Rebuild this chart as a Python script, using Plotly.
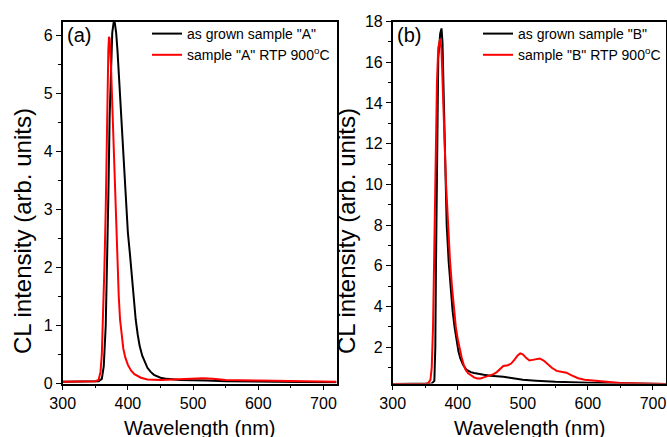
import plotly.graph_objects as go

# ---------------- data ----------------
wl_a_grown = [300, 320, 340, 355, 360, 363, 366, 368, 370, 372, 374, 376, 378, 379, 380, 382, 384, 386,
              388, 390, 393, 396, 398, 400, 403, 406, 409, 412, 415, 418, 422, 426, 430, 435, 440, 450,
              460, 480, 500, 520, 550, 600, 650, 700, 720]
cl_a_grown = [0.03, 0.03, 0.03, 0.04, 0.08, 0.3, 1.0, 2.0, 3.2, 4.6, 5.6, 6.05, 6.22, 6.24, 6.22, 6.05,
              5.75, 5.35, 4.9, 4.45, 3.85, 3.3, 2.9, 2.6, 2.25, 1.85, 1.45, 1.1, 0.85, 0.65, 0.48, 0.36,
              0.27, 0.2, 0.15, 0.1, 0.08, 0.06, 0.06, 0.05, 0.04, 0.03, 0.03, 0.02, 0.02]

wl_a_rtp = [300, 330, 350, 355, 358, 360, 362, 364, 366, 368, 370, 371, 372, 374, 376, 378, 380, 382,
            384, 386, 388, 390, 393, 396, 400, 405, 410, 420, 430, 450, 480, 500, 515, 530, 550, 600,
            650, 700, 720]
cl_a_rtp = [0.03, 0.03, 0.04, 0.06, 0.2, 0.5, 1.2, 2.0, 3.0, 4.6, 5.75, 5.98, 5.95, 5.5, 4.8, 4.0, 3.3,
            2.6, 2.0, 1.5, 1.1, 0.85, 0.6, 0.45, 0.32, 0.22, 0.16, 0.1, 0.07, 0.06, 0.07, 0.08, 0.09,
            0.08, 0.06, 0.05, 0.04, 0.03, 0.03]

wl_b_grown = [300, 340, 360, 364, 365.5, 366.5, 367.5, 368.5, 370, 373, 375, 376.5, 378, 381, 383, 386,
              389, 392, 395, 398, 401, 404, 408, 413, 420, 425, 430, 440, 450, 460, 470, 480, 490, 500,
              520, 550, 600, 650, 700, 720]
cl_b_grown = [0.2, 0.2, 0.22, 0.35, 2.0, 6.0, 10.0, 13.5, 16.2, 17.4, 17.66, 17.0, 14.8, 9.8, 8.0, 6.2,
              4.8, 3.8, 3.0, 2.3, 1.8, 1.45, 1.15, 0.9, 0.78, 0.74, 0.72, 0.65, 0.6, 0.58, 0.55, 0.5,
              0.44, 0.4, 0.36, 0.3, 0.26, 0.23, 0.21, 0.2]

wl_b_rtp = [300, 350, 355, 358, 360, 362, 364, 366, 368, 370, 372, 373, 375, 377, 379, 382, 385, 388,
            391, 394, 397, 400, 403, 406, 409, 412, 416, 420, 425, 430, 435, 440, 445, 450, 455, 460,
            465, 470, 477, 482, 487, 492, 496, 500, 505, 510, 515, 520, 526, 532, 538, 545, 552, 560,
            567, 575, 585, 595, 610, 630, 650, 680, 700, 720]
cl_b_rtp = [0.2, 0.2, 0.25, 0.4, 1.0, 3.0, 7.0, 12.0, 15.0, 16.7, 17.1, 17.15, 16.6, 15.0, 12.8, 10.0,
            8.0, 6.3, 5.0, 4.0, 3.0, 2.4, 1.9, 1.5, 1.15, 0.9, 0.72, 0.62, 0.52, 0.47, 0.47, 0.52, 0.58,
            0.63, 0.68, 0.78, 0.95, 1.08, 1.12, 1.2, 1.38, 1.6, 1.7, 1.65, 1.48, 1.35, 1.38, 1.42, 1.45,
            1.35, 1.18, 0.98, 0.84, 0.78, 0.75, 0.62, 0.48, 0.4, 0.35, 0.3, 0.24, 0.22, 0.22, 0.2]

names_a = ['as grown sample "A"', 'sample "A" RTP 900<sup>o</sup>C']
names_b = ['as grown sample "B"', 'sample "B" RTP 900<sup>o</sup>C']
x_ticks = [300, 400, 500, 600, 700]
y_ticks_a = [0, 1, 2, 3, 4, 5, 6]
y_ticks_b = [2, 4, 6, 8, 10, 12, 14, 16, 18]

W, H = 667, 437
FONT = "Arial, 'Liberation Sans', sans-serif"

fig = go.Figure()
fig.add_trace(go.Scatter(x=wl_a_grown, y=cl_a_grown, mode="lines", name=names_a[0],
                         line=dict(color="black", width=2), xaxis="x", yaxis="y", legend="legend"))
fig.add_trace(go.Scatter(x=wl_a_rtp, y=cl_a_rtp, mode="lines", name=names_a[1],
                         line=dict(color="#ff0000", width=2), xaxis="x", yaxis="y", legend="legend"))
fig.add_trace(go.Scatter(x=wl_b_grown, y=cl_b_grown, mode="lines", name=names_b[0],
                         line=dict(color="black", width=2), xaxis="x2", yaxis="y2", legend="legend2"))
fig.add_trace(go.Scatter(x=wl_b_rtp, y=cl_b_rtp, mode="lines", name=names_b[1],
                         line=dict(color="#ff0000", width=2), xaxis="x2", yaxis="y2", legend="legend2"))

def px_x(p):
    return p / W

def px_y(p):
    return 1 - p / H

axis_common = dict(showline=True, linecolor="black", linewidth=1.5, mirror=True,
                   ticks="outside", ticklen=5, tickwidth=1.2, tickcolor="black",
                   showgrid=False, zeroline=False, automargin=False,
                   tickfont=dict(family=FONT, size=16, color="black"))

ydom = [px_y(383.5), px_y(21.5)]
fig.update_layout(
    template="none",
    width=W, height=H,
    margin=dict(l=0, r=0, t=0, b=0, autoexpand=False),
    paper_bgcolor="white", plot_bgcolor="white",
    xaxis=dict(domain=[px_x(62.7), px_x(336.5)], range=[300, 720], tickvals=x_ticks,
               minor=dict(dtick=50, tick0=300, ticks="outside", ticklen=3, tickcolor="black"),
               anchor="y", **axis_common),
    yaxis=dict(domain=ydom, range=[0, 6.245], tickvals=y_ticks_a,
               minor=dict(dtick=0.5, tick0=0, ticks="outside", ticklen=3, tickcolor="black"),
               anchor="x", **axis_common),
    xaxis2=dict(domain=[px_x(392.7), px_x(666)], range=[300, 720], tickvals=x_ticks,
                minor=dict(dtick=50, tick0=300, ticks="outside", ticklen=3, tickcolor="black"),
                anchor="y2", **axis_common),
    yaxis2=dict(domain=ydom, range=[0.22, 18], tickvals=y_ticks_b,
                minor=dict(dtick=1, tick0=1, ticks="outside", ticklen=3, tickcolor="black"),
                anchor="x2", **axis_common),
    legend=dict(x=px_x(147), y=px_y(18), xanchor="left", yanchor="top",
                bgcolor="rgba(0,0,0,0)", font=dict(family=FONT, size=14, color="black"),
                tracegroupgap=0),
    legend2=dict(x=px_x(478), y=px_y(18), xanchor="left", yanchor="top",
                 bgcolor="rgba(0,0,0,0)", font=dict(family=FONT, size=14, color="black"),
                 tracegroupgap=0),
    showlegend=True,
)

ann_font = dict(family=FONT, size=20, color="black")
annotations = [
    dict(text="(a)", x=px_x(65), y=px_y(35), xanchor="left", yanchor="middle", showarrow=False,
         xref="paper", yref="paper", font=ann_font),
    dict(text="(b)", x=px_x(395), y=px_y(35), xanchor="left", yanchor="middle", showarrow=False,
         xref="paper", yref="paper", font=ann_font),
    dict(text="CL intensity (arb. units)", x=px_x(23), y=px_y(231), textangle=-90,
         xanchor="center", yanchor="middle", showarrow=False, xref="paper", yref="paper",
         font=dict(family=FONT, size=24, color="black")),
    dict(text="CL intensity (arb. units)", x=px_x(347), y=px_y(231), textangle=-90,
         xanchor="center", yanchor="middle", showarrow=False, xref="paper", yref="paper",
         font=dict(family=FONT, size=24, color="black")),
    dict(text="Wavelength (nm)", x=px_x(200), y=px_y(428), xanchor="center", yanchor="middle",
         showarrow=False, xref="paper", yref="paper", font=dict(family=FONT, size=20, color="black")),
    dict(text="Wavelength (nm)", x=px_x(530), y=px_y(428), xanchor="center", yanchor="middle",
         showarrow=False, xref="paper", yref="paper", font=dict(family=FONT, size=20, color="black")),
]
fig.update_layout(annotations=annotations)

fig.write_html("out.html")
